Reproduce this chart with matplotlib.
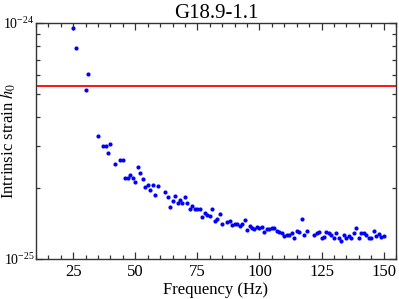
import numpy as np
import matplotlib
matplotlib.use("Agg")
import matplotlib.pyplot as plt
from matplotlib.ticker import MultipleLocator, LogLocator, NullFormatter

plt.rcParams["font.family"] = ["Liberation Serif", "DejaVu Serif"]
plt.rcParams["mathtext.fontset"] = "stix"

TITLE = "G18.9-1.1"

# frequency (Hz) and intrinsic strain in units of 1e-25
freq = [25, 26, 30, 31, 35, 37, 38, 39, 40, 42, 44, 45, 46, 47, 48, 49, 50,
        51, 52, 53, 54, 55, 56, 57, 58, 59, 62, 63, 64, 65, 66, 67, 68, 69,
        70, 71, 72, 73, 74, 75, 76, 77, 78, 79, 80, 81, 82, 83, 84, 85, 87,
        88, 89, 90, 91, 92, 93, 94, 95, 96, 97, 98, 99, 100, 101, 102, 103,
        104, 105, 106, 107, 108, 109, 110, 111, 112, 113, 114, 115, 116, 117,
        118, 119, 122, 123, 124, 125, 126, 127, 128, 129, 130, 131, 132, 133,
        134, 135, 136, 137, 138, 139, 140, 141, 142, 143, 144, 145, 146, 147,
        148, 149, 150]
strain_e25 = [9.5, 7.86, 5.2, 6.08, 3.32, 3.01, 3.01, 2.80, 3.06, 2.52, 2.62,
              2.62, 2.21, 2.20, 2.26, 2.20, 2.12, 2.44, 2.31, 2.17, 2.01, 2.05,
              1.96, 2.05, 1.86, 2.03, 1.92, 1.83, 1.66, 1.75, 1.85, 1.73, 1.77,
              1.73, 1.83, 1.73, 1.62, 1.68, 1.62, 1.63, 1.63, 1.51, 1.56, 1.53,
              1.52, 1.62, 1.44, 1.48, 1.55, 1.41, 1.43, 1.44, 1.39, 1.40, 1.40,
              1.38, 1.40, 1.46, 1.33, 1.38, 1.35, 1.34, 1.36, 1.35, 1.36, 1.30,
              1.34, 1.34, 1.35, 1.35, 1.31, 1.30, 1.29, 1.25, 1.26, 1.26, 1.28,
              1.23, 1.31, 1.30, 1.48, 1.26, 1.31, 1.26, 1.28, 1.30, 1.23, 1.24,
              1.30, 1.29, 1.26, 1.22, 1.29, 1.23, 1.19, 1.26, 1.22, 1.25, 1.23,
              1.28, 1.35, 1.22, 1.29, 1.29, 1.26, 1.23, 1.23, 1.31, 1.25, 1.27,
              1.24, 1.25]
upper_limit = 5.41e-25

strain = np.array(strain_e25) * 1e-25

fig = plt.figure(figsize=(3.99, 2.99), dpi=100)
ax = fig.add_axes([0.0902, 0.1348, 0.9023, 0.7882])

ax.axhline(upper_limit, color="red", lw=1.3, zorder=2)
ax.plot(freq, strain, "o", color="blue", ms=3, mew=0, zorder=3)

ax.set_yscale("log")
ax.set_xlim(10, 155)
ax.set_ylim(1e-25, 1e-24)

ax.xaxis.set_major_locator(MultipleLocator(25))
ax.xaxis.set_minor_locator(MultipleLocator(5))
ax.yaxis.set_major_locator(LogLocator(base=10))
ax.yaxis.set_minor_locator(LogLocator(base=10, subs=np.arange(2, 10)))
ax.yaxis.set_minor_formatter(NullFormatter())

ax.tick_params(which="both", direction="in", top=True, right=True,
               color="#333333", width=0.9)
ax.tick_params(axis="x", which="major", labelsize=12, length=5, pad=4)
ax.tick_params(axis="y", which="major", labelsize=10, length=5, pad=1)
ax.tick_params(which="minor", length=3)
for s in ax.spines.values():
    s.set_linewidth(1.0)
    s.set_color("#333333")

ax.set_title(TITLE, fontsize=15, pad=3)
ax.set_xlabel("Frequency (Hz)", fontsize=12, labelpad=1)
ax.set_ylabel("Intrinsic strain $h_0$", fontsize=12)
ax.yaxis.set_label_coords(-0.05, 0.5)

plt.savefig("out.png", dpi=100)
